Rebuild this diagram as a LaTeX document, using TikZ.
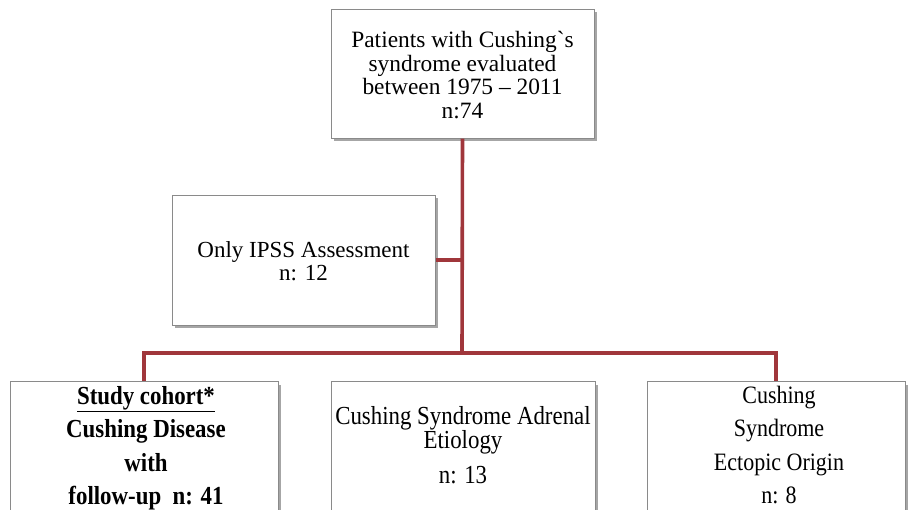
\documentclass[tikz,border=0pt]{standalone}
\usepackage{fontspec}
\setmainfont{Liberation Serif}
\newfontfamily\narrowfont[FakeStretch=0.88]{Liberation Serif}
\usetikzlibrary{shadows}
\definecolor{conn}{HTML}{A0363B}
\definecolor{boxline}{HTML}{8A8A8A}
\tikzset{
  box/.style={draw=boxline, line width=1pt, fill=white, inner sep=0pt,
    drop shadow={shadow xshift=3pt, shadow yshift=-3pt, fill=black, opacity=0.35}},
  link/.style={draw=conn, line width=3.6pt},
  txt/.style={align=center, inner sep=0pt, font=\fontsize{23.4}{23.4}\selectfont}
}
\begin{document}
\begin{tikzpicture}[x=1pt,y=-1pt]
\useasboundingbox (0,0) rectangle (910,509);
\clip (0,0) rectangle (910,509);
% boxes
\node[box, minimum width=263pt, minimum height=129pt] (top) at (462.5,73.5) {};
\node[box, minimum width=263pt, minimum height=130pt] (ipss) at (303.5,260) {};
\node[box, minimum width=268pt, minimum height=180pt, anchor=north] (left) at (144,381) {};
\node[box, minimum width=264pt, minimum height=180pt, anchor=north] (mid) at (463,381) {};
\node[box, minimum width=258pt, minimum height=180pt, anchor=north] (right) at (776,381) {};
% connectors
\coordinate (junc) at (462,353);
\coordinate (side) at (462,260);
\draw[link] (top.south) -- (junc);
\draw[link] (ipss.east) -- (side);
\draw[link] (junc) -- (junc -| left.north) -- (left.north);
\draw[link] (junc) -- (junc -| right.north) -- (right.north);
\draw[link] (junc) -- (junc -| mid.north);
% texts
\node[txt] (toptext) at (462.5,75) {Patients with Cushing\textasciigrave s\\syndrome evaluated\\between 1975 -- 2011\\n:74};
\node[txt, font=\fontsize{23}{23}\selectfont] (ipsstext) at (303.5,261) {Only IPSS Assessment\\n: 12};
\node[txt, anchor=north, font=\fontsize{26}{33.4}\narrowfont\bfseries] (lefttext) at (146,386)
  {\underline{Study cohort*}\\Cushing Disease\\with\\follow-up\ \ n: 41};
\node[txt, anchor=north, font=\fontsize{26}{23.5}\narrowfont] (midtext) at (463,406)
  {Cushing Syndrome Adrenal\\Etiology\\[11pt]n: 13};
\node[txt, anchor=north, font=\fontsize{25}{33.4}\narrowfont] (righttext) at (779,386)
  {Cushing\\Syndrome\\Ectopic Origin\\n: 8};
\end{tikzpicture}
\end{document}
